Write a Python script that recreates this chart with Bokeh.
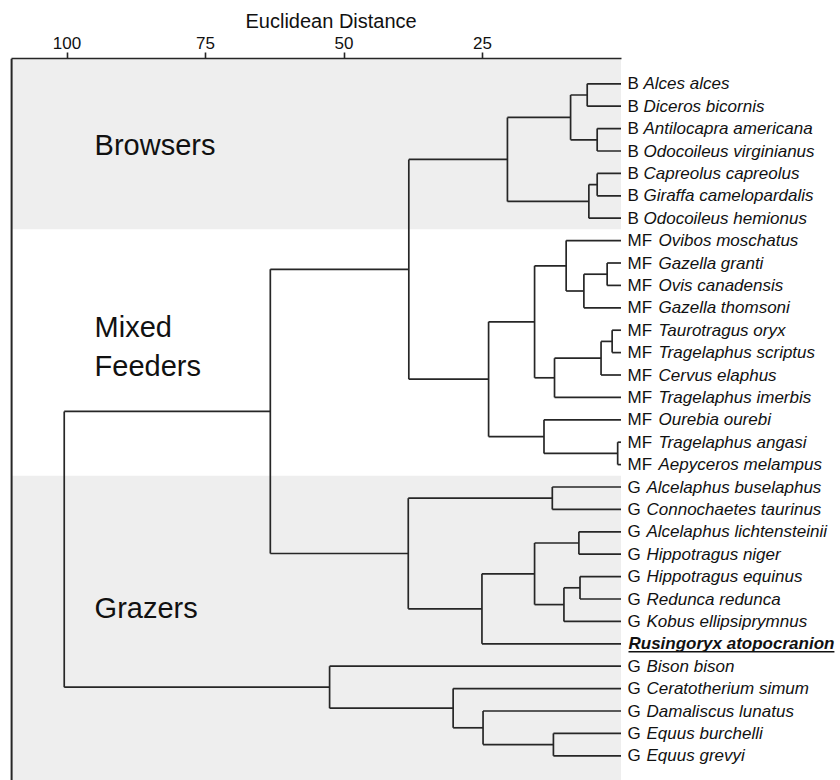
import numpy as np
from bokeh.plotting import figure
from bokeh.models import ColumnDataSource, Range1d, FixedTicker
from bokeh.embed import file_html
from bokeh.resources import INLINE
from bokeh.core.properties import value

# ---------------- data ----------------
feeding_class = ["B"] * 7 + ["MF"] * 11 + ["G"] * 7 + [""] + ["G"] * 5
species = [
    "Alces alces", "Diceros bicornis", "Antilocapra americana", "Odocoileus virginianus",
    "Capreolus capreolus", "Giraffa camelopardalis", "Odocoileus hemionus",
    "Ovibos moschatus", "Gazella granti", "Ovis canadensis", "Gazella thomsoni",
    "Taurotragus oryx", "Tragelaphus scriptus", "Cervus elaphus", "Tragelaphus imerbis",
    "Ourebia ourebi", "Tragelaphus angasi", "Aepyceros melampus",
    "Alcelaphus buselaphus", "Connochaetes taurinus", "Alcelaphus lichtensteinii",
    "Hippotragus niger", "Hippotragus equinus", "Redunca redunca", "Kobus ellipsiprymnus",
    "Rusingoryx atopocranion",
    "Bison bison", "Ceratotherium simum", "Damaliscus lunatus", "Equus burchelli", "Equus grevyi",
]
# agglomeration schedule: leaves are 0..30, each merge creates node 31, 32, ...
merge_left = [0, 2, 31, 4, 34, 33, 8, 37, 7, 11, 40, 41, 39, 16, 15, 43, 36,
              18, 20, 22, 50, 49, 52, 48, 47, 29, 28, 27, 26, 55]
merge_right = [1, 3, 32, 5, 6, 35, 9, 10, 38, 12, 13, 14, 42, 17, 44, 45, 46,
               19, 21, 23, 24, 51, 25, 53, 54, 30, 56, 57, 58, 59]
merge_distance = [6.1, 4.3, 9.1, 4.3, 5.8, 20.5, 2.5, 6.7, 9.9, 1.6, 3.6, 12.0, 15.6, 0.6, 13.9, 23.9, 38.3,
                  12.4, 7.6, 7.4, 10.3, 15.6, 25.1, 38.4, 63.3, 12.2, 24.9, 30.3, 52.6, 100.5]
group_names = ["Browsers", "Mixed\nFeeders", "Grazers"]
group_first_row = [0, 7, 18]
group_last_row = [6, 17, 30]
group_shaded = [True, False, True]
tick_values = [100, 75, 50, 25]

# ---------------- layout constants ----------------
W, H = 840, 780
PX_PER_UNIT = 5.54       # pixels per distance unit
ZERO_PX = 620.5          # x pixel of distance 0
ROW_PX = 22.4
ROW0_PX = 83.3           # y pixel of first leaf
TOP_BORDER = 58
D_LEFT = 110.0           # left edge of dendrogram box
FONT = "Liberation Sans"
LINE_COLOR = "#262626"
TEXT_COLOR = "#111111"

x_start = ZERO_PX / PX_PER_UNIT
x_end = (ZERO_PX - W) / PX_PER_UNIT
y_top = (TOP_BORDER - ROW0_PX) / ROW_PX
y_bottom = (H - ROW0_PX) / ROW_PX

p = figure(width=W, height=H, output_backend="svg", toolbar_location=None,
           x_range=Range1d(x_start, x_end), y_range=Range1d(y_bottom, y_top),
           x_axis_location="above", y_axis_location=None,
           min_border_left=0, min_border_right=0, min_border_top=TOP_BORDER, min_border_bottom=0)
p.outline_line_color = None
p.grid.visible = False
p.background_fill_color = "white"

# title (placed over the distance scale)
p.title.text = "Euclidean Distance"
p.title.align = "left"
p.title.offset = 245
p.title.standoff = 3
p.title.text_font = FONT
p.title.text_font_size = "20px"
p.title.text_font_style = "normal"
p.title.text_color = TEXT_COLOR

# bands
n_groups = len(group_names)
b_top = [y_top if i == 0 else group_first_row[i] - 0.5 for i in range(n_groups)]
b_bot = [y_bottom if i == n_groups - 1 else group_last_row[i] + 0.5 for i in range(n_groups)]
b_col = ["#eeeeee" if s else "white" for s in group_shaded]
p.quad(left=D_LEFT, right=0, top=b_top, bottom=b_bot, fill_color=b_col, line_color=None)

# left border of box
p.segment(x0=[D_LEFT], y0=[y_top], x1=[D_LEFT], y1=[y_bottom], line_color=LINE_COLOR, line_width=2)

# dendrogram layout
n = len(species)
ypos = {i: float(i) for i in range(n)}
xpos = {i: 0.0 for i in range(n)}
sx0, sy0, sx1, sy1 = [], [], [], []
for k, (a, b, h) in enumerate(zip(merge_left, merge_right, merge_distance)):
    node = n + k
    ya, yb = ypos[a], ypos[b]
    sx0 += [h, xpos[a], xpos[b]]
    sy0 += [ya, ya, yb]
    sx1 += [h, h, h]
    sy1 += [yb, ya, yb]
    ypos[node] = (ya + yb) / 2
    xpos[node] = h
p.segment(x0=sx0, y0=sy0, x1=sx1, y1=sy1, line_color=LINE_COLOR, line_width=1.7)

# leaf labels
prefix_width = {"B": 16, "MF": 31, "G": 19}
rows = [i for i in range(n) if feeding_class[i]]
src = ColumnDataSource(dict(
    x=[0.0] * len(rows), y=rows,
    prefix=[feeding_class[i] for i in rows],
    name=[species[i] for i in rows],
    off=[6.5 + prefix_width[feeding_class[i]] for i in rows],
))
p.text(x="x", y="y", text="prefix", source=src, x_offset=6.5, text_baseline="middle",
       text_font=value(FONT), text_font_size="17px", text_color=TEXT_COLOR)
p.text(x="x", y="y", text="name", source=src, x_offset="off", text_baseline="middle",
       text_font=value(FONT), text_font_size="17px", text_font_style="italic", text_color=TEXT_COLOR)

# highlighted fossil taxon
fossil = [i for i in range(n) if not feeding_class[i]]
FOSSIL_W = 12.113 * 17
p.text(x=[0.0] * len(fossil), y=fossil, text=[species[i] for i in fossil], x_offset=7.5,
       text_baseline="middle", text_font=value(FONT), text_font_size="17px",
       text_font_style="bold italic", text_color=TEXT_COLOR)
p.segment(x0=[-7.5 / PX_PER_UNIT] * len(fossil), x1=[-(7.5 + FOSSIL_W) / PX_PER_UNIT] * len(fossil),
          y0=[r + 0.36 for r in fossil], y1=[r + 0.36 for r in fossil], line_color=TEXT_COLOR, line_width=1.5)

# group labels
g_y = [(f + l) / 2 for f, l in zip(group_first_row, group_last_row)]
p.text(x=[D_LEFT] * n_groups, y=g_y, text=group_names, x_offset=83, y_offset=[-6, -6, -13],
       text_baseline="middle", text_font=value(FONT), text_font_size="29px",
       text_color=TEXT_COLOR, text_line_height=1.2)

# axis
ax = p.xaxis[0]
ax.ticker = FixedTicker(ticks=tick_values)
ax.bounds = (D_LEFT, 0)
ax.major_label_text_font = FONT
ax.major_label_text_font_size = "17px"
ax.major_label_text_color = TEXT_COLOR
ax.major_label_standoff = 4
ax.axis_line_color = LINE_COLOR
ax.axis_line_width = 1.6
ax.major_tick_line_color = LINE_COLOR
ax.major_tick_line_width = 1.6
ax.major_tick_out = 6
ax.major_tick_in = 0
ax.minor_tick_line_color = None

open("out.html", "w").write(file_html(p, INLINE))
